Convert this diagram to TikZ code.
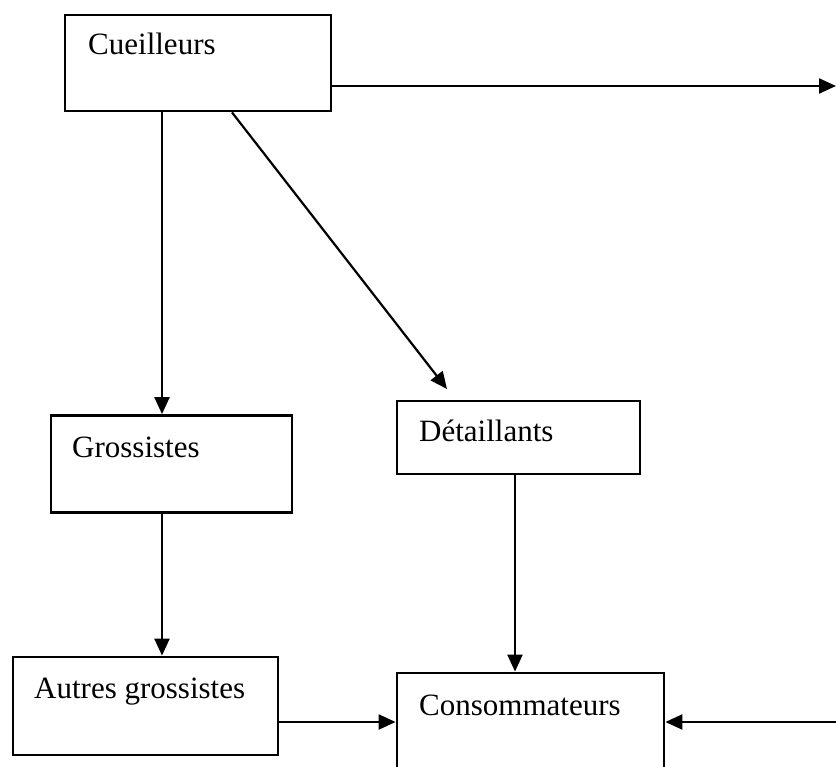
\documentclass[tikz,border=0pt]{standalone}
\usepackage{fontspec}
\setmainfont{Liberation Serif}
\usetikzlibrary{arrows.meta}
\begin{document}
\begin{tikzpicture}[x=1pt,y=-1pt,
  boxstyle/.style={draw, line width=2.8pt, rectangle, inner sep=0pt},
  lbl/.style={anchor=base west, inner sep=0pt, font=\fontsize{31}{36}\selectfont},
  conn/.style={line width=2.2pt, -{Triangle[length=17pt,width=15pt]}}]
\useasboundingbox (0,0) rectangle (836,767);
\fill[white] (0,0) rectangle (836,767);
% boxes
\node[boxstyle, minimum width=266pt, minimum height=96pt] (cue) at (198,63) {};
\node[boxstyle, minimum width=241pt, minimum height=97pt] (gro) at (171.5,464) {};
\node[boxstyle, minimum width=265pt, minimum height=98pt] (aut) at (145.5,706) {};
\node[boxstyle, minimum width=243pt, minimum height=73pt] (det) at (518.5,437.5) {};
\node[boxstyle, minimum width=267pt, minimum height=130pt] (con) at (530.5,738) {};
% labels
\node[lbl] (tcue) at (88,55) {Cueilleurs};
\node[lbl] (tgro) at (72,457) {Grossistes};
\node[lbl] (taut) at (34,698) {Autres grossistes};
\node[lbl] (tdet) at (419,442) {Détaillants};
\node[lbl] (tcon) at (419,715) {Consommateurs};
% free ends
\coordinate (rtop) at (836,86);
\coordinate (rbot) at (838,722);
\coordinate (dtip) at (447,389);
% connectors
\draw[conn] (cue.south -| 162,0) -- (gro.north -| 162,0);
\draw[conn] (cue.south -| 232,0) -- (dtip);
\draw[conn] (cue.east |- 0,86) -- (rtop);
\draw[conn] (gro.south -| 162,0) -- (aut.north -| 162,0);
\draw[conn] (aut.east |- 0,722) -- (con.west |- 0,722);
\draw[conn] (det.south -| 515,0) -- (con.north -| 515,0);
\draw[conn] (rbot) -- (con.east |- 0,722);
\end{tikzpicture}
\end{document}
